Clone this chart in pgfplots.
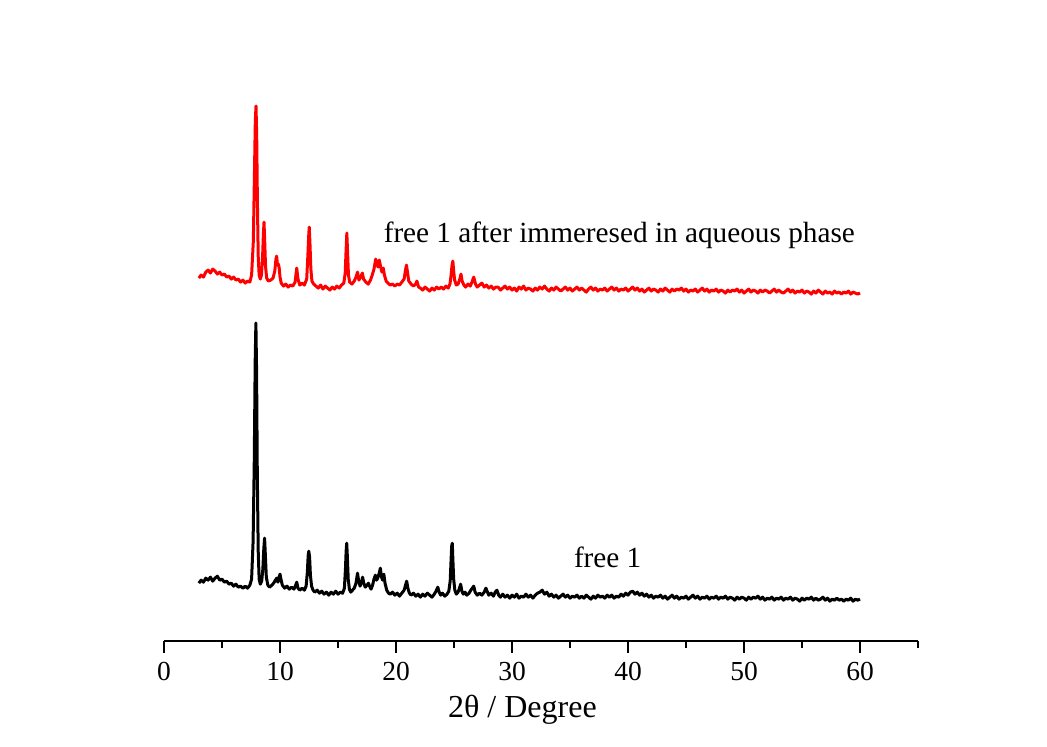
\documentclass[border=0pt]{standalone}
\usepackage{fontspec}
\setmainfont{Liberation Serif}
\usepackage{pgfplots}
\pgfplotsset{compat=1.18}

% y values: height above the axis line, in reference pixels
\pgfplotstableread{
x y
3.0 363
3.2 366
3.4 364
3.6 369
3.8 371
4.0 368
4.2 372
4.4 370
4.6 367
4.8 369
5.0 366
5.2 367
5.4 364
5.6 365
5.8 362
6.0 364
6.2 361
6.4 362
6.6 359
6.8 361
7.0 358
7.2 360
7.4 359
7.55 366
7.7 400
7.8 470
7.87 520
7.93 535
7.99 505
8.05 440
8.12 385
8.2 366
8.3 362
8.4 366
8.5 385
8.56 405
8.62 419
8.68 400
8.75 375
8.85 363
9.0 360
9.2 361
9.4 363
9.55 370
9.65 382
9.71 385
9.78 376
9.85 377
9.92 374
10.0 364
10.1 358
10.3 355
10.5 357
10.7 354
10.9 356
11.1 355
11.3 359
11.44 373
11.55 362
11.7 356
11.9 358
12.1 356
12.3 362
12.4 385
12.47 405
12.52 414
12.58 398
12.66 372
12.75 360
12.9 357
13.1 355
13.3 353
13.5 356
13.7 352
13.9 355
14.1 353
14.3 351
14.5 354
14.7 352
14.9 355
15.1 353
15.3 356
15.5 358
15.62 368
15.7 392
15.76 408
15.82 390
15.9 366
16.0 359
16.2 357
16.4 360
16.55 364
16.68 369
16.8 361
16.95 364
17.1 368
17.2 362
17.4 359
17.6 357
17.8 361
17.95 366
18.1 372
18.25 382
18.35 377
18.45 374
18.56 381
18.68 374
18.78 369
18.9 373
19.0 366
19.15 360
19.3 358
19.5 356
19.7 357
19.9 355
20.1 357
20.3 356
20.5 359
20.7 362
20.8 370
20.9 376
21.0 368
21.1 360
21.3 357
21.5 355
21.7 357
21.8 360
21.95 354
22.1 353
22.3 351
22.5 354
22.7 352
22.9 350
23.1 353
23.3 351
23.5 354
23.7 352
23.9 354
24.1 352
24.3 355
24.5 353
24.65 357
24.75 366
24.83 376
24.9 380
24.97 370
25.05 361
25.2 356
25.35 357
25.5 362
25.6 367
25.7 360
25.85 356
26.0 354
26.2 357
26.4 355
26.55 359
26.7 364
26.85 357
27.0 354
27.2 356
27.4 358
27.6 354
27.8 356
28.0 353
28.2 355
28.4 352
28.6 354
28.8 354
29.0 351
29.2 353
29.4 355
29.6 352
29.8 354
30.0 351
30.2 353
30.4 350
30.6 354
30.8 352
31.0 355
31.2 351
31.4 353
31.6 352
31.8 350
32.0 353
32.2 351
32.4 354
32.6 352
32.8 355
33.0 352
33.2 350
33.4 353
33.6 351
33.8 354
34.0 352
34.2 350
34.4 352
34.6 354
34.8 351
35.0 353
35.2 350
35.4 352
35.6 354
35.8 351
36.0 353
36.2 351
36.4 349
36.6 352
36.8 354
37.0 351
37.2 353
37.4 350
37.6 352
37.8 351
38.0 353
38.2 350
38.4 352
38.6 354
38.8 351
39.0 353
39.2 350
39.4 352
39.6 351
39.8 353
40.0 350
40.2 352
40.4 354
40.6 351
40.8 353
41.0 350
41.2 352
41.4 349
41.6 351
41.8 353
42.0 350
42.2 352
42.4 351
42.6 349
42.8 352
43.0 350
43.2 353
43.4 351
43.6 349
43.8 352
44.0 350
44.2 352
44.4 351
44.6 353
44.8 350
45.0 352
45.2 349
45.4 351
45.6 350
45.8 352
46.0 349
46.2 351
46.4 353
46.6 350
46.8 352
47.0 349
47.2 351
47.4 350
47.6 352
47.8 349
48.0 351
48.2 350
48.4 348
48.6 351
48.8 349
49.0 351
49.2 350
49.4 352
49.6 349
49.8 351
50.0 348
50.2 350
50.4 352
50.6 349
50.8 351
51.0 350
51.2 348
51.4 351
51.6 349
51.8 351
52.0 350
52.2 348
52.4 350
52.6 352
52.8 349
53.0 351
53.2 349
53.4 348
53.6 350
53.8 352
54.0 349
54.2 351
54.4 348
54.6 350
54.8 349
55.0 351
55.2 348
55.4 350
55.6 349
55.8 347
56.0 350
56.2 348
56.4 351
56.6 349
56.8 347
57.0 350
57.2 348
57.4 349
57.6 347
57.8 350
58.0 348
58.2 349
58.4 347
58.6 349
58.8 348
59.0 350
59.2 347
59.4 349
59.6 348
59.8 347
60.0 348
}\after

\pgfplotstableread{
x y
3.0 58
3.2 61
3.4 59
3.6 63
3.8 61
4.0 64
4.2 60
4.4 63
4.6 65
4.8 61
5.0 62
5.2 59
5.4 60
5.6 57
5.8 58
6.0 55
6.2 57
6.4 54
6.6 55
6.8 53
7.0 55
7.2 53
7.4 56
7.55 62
7.68 100
7.78 180
7.86 280
7.92 318
7.98 270
8.04 170
8.12 90
8.2 62
8.3 57
8.42 60
8.52 72
8.6 92
8.67 103
8.74 85
8.82 64
8.95 56
9.1 54
9.3 56
9.45 58
9.6 61
9.72 63
9.82 59
9.92 64
10.0 67
10.08 62
10.2 56
10.4 53
10.6 55
10.8 52
11.0 54
11.2 52
11.35 56
11.44 59
11.55 53
11.7 51
11.9 53
12.1 51
12.25 55
12.35 68
12.43 86
12.48 90
12.55 84
12.62 66
12.72 55
12.85 51
13.0 49
13.2 51
13.4 48
13.6 50
13.8 47
14.0 49
14.2 46
14.4 49
14.6 47
14.8 50
15.0 47
15.2 49
15.4 48
15.55 53
15.64 72
15.7 90
15.75 98
15.8 86
15.88 62
15.98 52
16.1 49
16.25 51
16.4 53
16.55 58
16.68 68
16.78 60
16.9 55
17.0 58
17.12 64
17.22 58
17.35 54
17.5 56
17.62 58
17.72 55
17.85 52
17.98 56
18.1 62
18.22 66
18.32 61
18.42 63
18.55 68
18.65 73
18.75 64
18.85 61
18.95 67
19.05 58
19.2 51
19.35 48
19.5 47
19.7 49
19.9 46
20.1 48
20.3 45
20.5 48
20.7 51
20.82 56
20.92 60
21.02 53
21.15 48
21.3 46
21.5 48
21.7 45
21.9 47
22.1 44
22.3 47
22.5 45
22.7 48
22.9 46
23.1 44
23.3 47
23.45 50
23.6 54
23.72 49
23.85 46
24.0 48
24.2 45
24.4 47
24.55 50
24.67 60
24.75 82
24.8 95
24.85 98
24.9 82
24.97 62
25.07 51
25.2 47
25.35 49
25.47 53
25.57 57
25.68 50
25.8 47
25.95 49
26.1 46
26.3 48
26.45 51
26.58 53
26.7 55
26.82 49
27.0 46
27.2 48
27.4 46
27.6 49
27.75 53
27.85 50
28.0 46
28.2 48
28.4 45
28.55 49
28.7 51
28.85 46
29.0 44
29.2 47
29.4 44
29.6 46
29.8 43
30.0 46
30.2 44
30.4 47
30.6 43
30.8 45
31.0 44
31.2 47
31.4 44
31.6 46
31.8 43
32.0 46
32.2 48
32.4 49
32.6 51
32.8 47
33.0 49
33.2 45
33.4 47
33.6 44
33.8 46
34.0 43
34.2 45
34.4 47
34.6 44
34.8 46
35.0 43
35.2 45
35.4 44
35.6 46
35.8 43
36.0 45
36.2 43
36.4 46
36.6 44
36.8 42
37.0 45
37.2 43
37.4 46
37.6 44
37.8 45
38.0 43
38.2 46
38.4 44
38.6 46
38.8 43
39.0 45
39.2 44
39.4 47
39.6 45
39.8 48
40.0 46
40.2 49
40.4 50
40.6 47
40.8 49
41.0 46
41.2 48
41.4 45
41.6 47
41.8 44
42.0 46
42.2 43
42.4 45
42.6 44
42.8 46
43.0 43
43.2 45
43.4 42
43.6 44
43.8 46
44.0 43
44.2 45
44.4 42
44.6 44
44.8 43
45.0 45
45.2 42
45.4 44
45.6 46
45.8 43
46.0 45
46.2 42
46.4 44
46.6 43
46.8 45
47.0 42
47.2 44
47.4 43
47.6 45
47.8 42
48.0 44
48.2 43
48.4 45
48.6 42
48.8 44
49.0 43
49.2 41
49.4 44
49.6 42
49.8 44
50.0 43
50.2 41
50.4 44
50.6 42
50.8 44
51.0 43
51.2 45
51.4 42
51.6 44
51.8 41
52.0 43
52.2 42
52.4 44
52.6 41
52.8 43
53.0 42
53.2 44
53.4 41
53.6 43
53.8 42
54.0 44
54.2 41
54.4 43
54.6 42
54.8 40
55.0 43
55.2 41
55.4 43
55.6 42
55.8 44
56.0 41
56.2 43
56.4 41
56.6 42
56.8 44
57.0 41
57.2 43
57.4 40
57.6 42
57.8 41
58.0 43
58.2 41
58.4 42
58.6 40
58.8 42
59.0 41
59.2 43
59.4 40
59.6 42
59.8 41
60.0 42
}\before

\begin{document}
\begin{tikzpicture}
\begin{axis}[
  scale only axis,
  width=301.6pt, height=216.4pt,
  xmin=0, xmax=65, ymin=0, ymax=541,
  axis x line*=bottom,
  axis y line=none,
  axis line style={-, line width=0.6pt},
  clip=false,
  font=\fontsize{11}{13}\selectfont,
  /pgf/number format/assume math mode=true,
  xtick={0,10,...,60},
  minor xtick={5,15,...,65},
  tick align=outside,
  major tick length=4.8pt,
  minor tick length=2.8pt,
  tick style={black, line width=0.6pt},
  ytick=\empty,
]
\path (axis cs:-14.14,-105) rectangle (axis cs:76.12,641);
\addplot[red, line width=1.2pt, line join=round] table[x=x, y=y] {\after};
\addplot[black, line width=1.2pt, line join=round] table[x=x, y=y] {\before};
\node[anchor=base west, inner sep=0pt, font=\fontsize{11.7}{14}\selectfont]
  at (axis cs:18.9,399) {free 1 after immeresed in aqueous phase};
\node[anchor=base west, inner sep=0pt, font=\fontsize{11.7}{14}\selectfont]
  at (axis cs:35.3,74) {free 1};
\node[anchor=base, inner sep=0pt, font=\fontsize{12.8}{15}\selectfont]
  at (axis cs:30.9,-76) {2θ / Degree};
\end{axis}
\end{tikzpicture}
\end{document}
